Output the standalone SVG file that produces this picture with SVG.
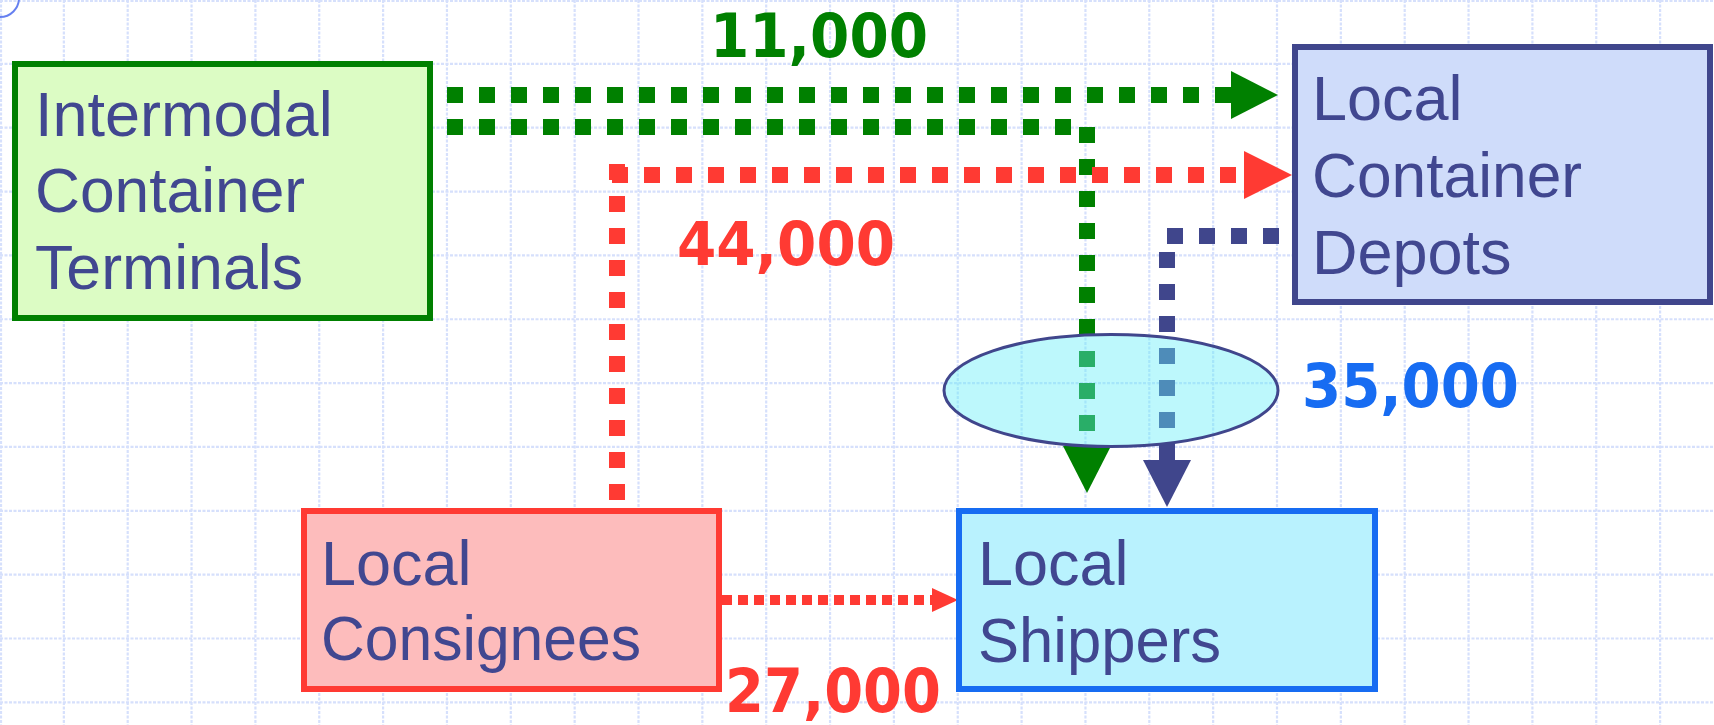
<svg xmlns="http://www.w3.org/2000/svg" width="1714" height="725" viewBox="0 0 1714 725">
  <style>
    .grid line { stroke: #d6e0fc; stroke-width: 2.2; stroke-dasharray: 3 1.5; }
    .box { stroke-width: 6; }
    .name { font-family: "Liberation Sans", Arial, sans-serif; font-size: 63px; fill: #414790; }
    .qty { font-family: "DejaVu Sans", Verdana, sans-serif; font-size: 60px; font-weight: bold; }
    .dots { fill: none; stroke-width: 16; stroke-dasharray: 16 16; }
  </style>

  <rect width="1714" height="725" fill="#ffffff"/>

  <!-- background grid, 63.85 px pitch -->
  <g class="grid">
    <line x1="1" y1="0" x2="1" y2="725"/>
    <line x1="63.85" y1="0" x2="63.85" y2="725"/>
    <line x1="127.7" y1="0" x2="127.7" y2="725"/>
    <line x1="191.55" y1="0" x2="191.55" y2="725"/>
    <line x1="255.4" y1="0" x2="255.4" y2="725"/>
    <line x1="319.25" y1="0" x2="319.25" y2="725"/>
    <line x1="383.1" y1="0" x2="383.1" y2="725"/>
    <line x1="446.95" y1="0" x2="446.95" y2="725"/>
    <line x1="510.8" y1="0" x2="510.8" y2="725"/>
    <line x1="574.65" y1="0" x2="574.65" y2="725"/>
    <line x1="638.5" y1="0" x2="638.5" y2="725"/>
    <line x1="702.35" y1="0" x2="702.35" y2="725"/>
    <line x1="766.2" y1="0" x2="766.2" y2="725"/>
    <line x1="830.05" y1="0" x2="830.05" y2="725"/>
    <line x1="893.9" y1="0" x2="893.9" y2="725"/>
    <line x1="957.75" y1="0" x2="957.75" y2="725"/>
    <line x1="1021.6" y1="0" x2="1021.6" y2="725"/>
    <line x1="1085.45" y1="0" x2="1085.45" y2="725"/>
    <line x1="1149.3" y1="0" x2="1149.3" y2="725"/>
    <line x1="1213.15" y1="0" x2="1213.15" y2="725"/>
    <line x1="1277" y1="0" x2="1277" y2="725"/>
    <line x1="1340.85" y1="0" x2="1340.85" y2="725"/>
    <line x1="1404.7" y1="0" x2="1404.7" y2="725"/>
    <line x1="1468.55" y1="0" x2="1468.55" y2="725"/>
    <line x1="1532.4" y1="0" x2="1532.4" y2="725"/>
    <line x1="1596.25" y1="0" x2="1596.25" y2="725"/>
    <line x1="1660.1" y1="0" x2="1660.1" y2="725"/>
    <line x1="0" y1="1" x2="1714" y2="1"/>
    <line x1="0" y1="63.85" x2="1714" y2="63.85"/>
    <line x1="0" y1="127.7" x2="1714" y2="127.7"/>
    <line x1="0" y1="191.55" x2="1714" y2="191.55"/>
    <line x1="0" y1="255.4" x2="1714" y2="255.4"/>
    <line x1="0" y1="319.25" x2="1714" y2="319.25"/>
    <line x1="0" y1="383.1" x2="1714" y2="383.1"/>
    <line x1="0" y1="446.95" x2="1714" y2="446.95"/>
    <line x1="0" y1="510.8" x2="1714" y2="510.8"/>
    <line x1="0" y1="574.65" x2="1714" y2="574.65"/>
    <line x1="0" y1="638.5" x2="1714" y2="638.5"/>
    <line x1="0" y1="702.35" x2="1714" y2="702.35"/>
  </g>

  <!-- corner ornament -->
  <circle cx="0" cy="-2" r="19" fill="none" stroke="#6680f0" stroke-width="2"/>

  <!-- flows -->
  <g id="connectors">
    <!-- terminals to depots, 11,000 -->
    <path class="dots" d="M447,95 H1231" stroke="#008000"/>
    <polygon points="1231,71 1278,95 1231,119" fill="#008000"/>
    <!-- terminals to shippers -->
    <path class="dots" d="M447,127 H1079" stroke="#008000"/>
    <path class="dots" d="M1087,127 V446" stroke="#008000"/>
    <polygon points="1063,446 1111,446 1087,493" fill="#008000"/>
    <!-- consignees to depots, 44,000 -->
    <path class="dots" d="M617,164 V505" stroke="#ff3a33"/>
    <path class="dots" d="M612,175 H1244" stroke="#ff3a33"/>
    <polygon points="1244,151 1292,175 1244,199" fill="#ff3a33"/>
    <!-- depots to shippers -->
    <path class="dots" d="M1279,236 H1167" stroke="#40468c"/>
    <path class="dots" d="M1167,252 V460" stroke="#40468c"/>
    <polygon points="1143,460 1191,460 1167,507" fill="#40468c"/>
    <!-- consignees to shippers, 27,000 -->
    <path d="M722,600 H932" fill="none" stroke="#ff3a33" stroke-width="10" stroke-dasharray="10 6"/>
    <polygon points="932,588 958,600 932,612" fill="#ff3a33"/>

    <text class="qty" x="710" y="57" fill="#008000" textLength="218" lengthAdjust="spacingAndGlyphs">11,000</text>
    <text class="qty" x="677" y="265" fill="#ff3a33" textLength="218" lengthAdjust="spacingAndGlyphs">44,000</text>
    <text class="qty" x="1302" y="407" fill="#176cf2" textLength="217" lengthAdjust="spacingAndGlyphs">35,000</text>
    <text class="qty" x="725" y="712" fill="#ff3a33" textLength="216" lengthAdjust="spacingAndGlyphs">27,000</text>
  </g>

  <!-- combined flow into shippers -->
  <g id="combined-flow">
    <ellipse cx="1111" cy="390.5" rx="167" ry="56" fill="#62eef8" fill-opacity="0.42" stroke="#40468c" stroke-width="3"/>
  </g>

  <g id="intermodal-terminals">
    <rect class="box" x="15" y="64" width="415" height="254" fill="#dcfcc4" stroke="#008000"/>
    <text class="name" x="35" y="136">Intermodal</text>
    <text class="name" x="35" y="212" textLength="270" lengthAdjust="spacingAndGlyphs">Container</text>
    <text class="name" x="35" y="289" textLength="268" lengthAdjust="spacingAndGlyphs">Terminals</text>
  </g>

  <g id="container-depots">
    <rect class="box" x="1295" y="47" width="415" height="255" fill="#cfdcfa" stroke="#40468c"/>
    <text class="name" x="1312" y="120">Local</text>
    <text class="name" x="1312" y="197" textLength="270" lengthAdjust="spacingAndGlyphs">Container</text>
    <text class="name" x="1312" y="274">Depots</text>
  </g>

  <g id="local-consignees">
    <rect class="box" x="304" y="511" width="415" height="178" fill="#fdbcbc" stroke="#ff3a33" stroke-width="5.5"/>
    <text class="name" x="321" y="585">Local</text>
    <text class="name" x="321" y="660" textLength="320" lengthAdjust="spacingAndGlyphs">Consignees</text>
  </g>

  <g id="local-shippers">
    <rect class="box" x="959" y="511" width="416" height="178" fill="#b9f2fe" stroke="#176cf2" stroke-width="5.5"/>
    <text class="name" x="978" y="585">Local</text>
    <text class="name" x="978" y="662" textLength="243" lengthAdjust="spacingAndGlyphs">Shippers</text>
  </g>
</svg>
